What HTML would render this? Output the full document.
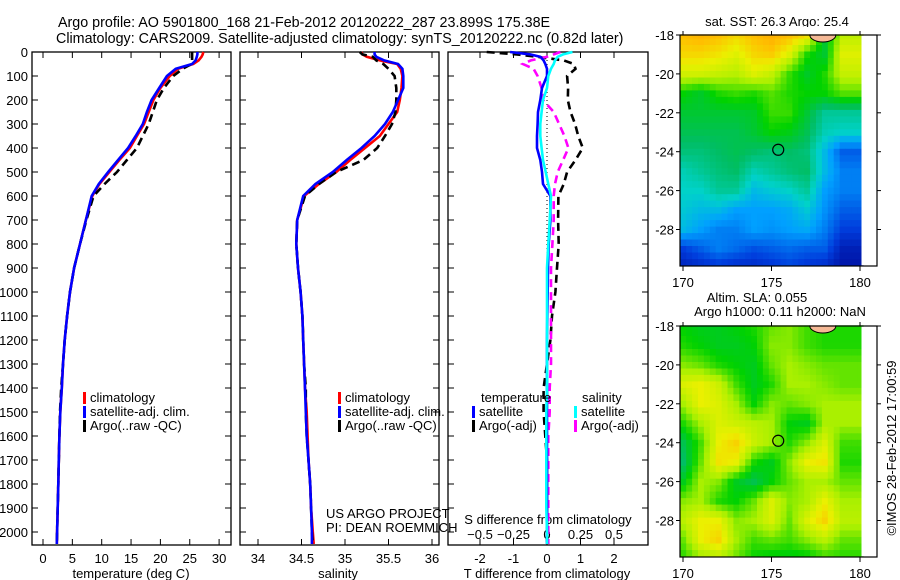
<!DOCTYPE html>
<html><head><meta charset="utf-8"><style>
body{margin:0;background:#fff}
svg{display:block;font-family:"Liberation Sans",sans-serif;font-size:13px}
</style></head><body>
<svg id="c" width="900" height="580" xmlns="http://www.w3.org/2000/svg">
<text x="58" y="27" font-size="14.3">Argo profile: AO 5901800_168 21-Feb-2012 20120222_287 23.899S 175.38E</text>
<text x="56" y="43" font-size="14.3">Climatology: CARS2009. Satellite-adjusted climatology: synTS_20120222.nc (0.82d later)</text>
<text x="777" y="26" text-anchor="middle">sat. SST: 26.3 Argo: 25.4</text>
<text x="757" y="302" text-anchor="middle">Altim. SLA: 0.055</text>
<text x="780" y="316" text-anchor="middle">Argo h1000: 0.11 h2000: NaN</text>
<text transform="translate(896,448) rotate(-90)" text-anchor="middle">©IMOS 28-Feb-2012 17:00:59</text>
<text x="326" y="518">US ARGO PROJECT</text>
<text x="326" y="532">PI: DEAN ROEMMICH</text>
<g id="g"></g>
</svg>
<script>
// ---- data ----
const depth=[0,10,20,35,50,70,100,150,200,250,300,350,400,450,500,550,600,700,800,900,1000,1100,1200,1300,1400,1500,1600,1700,1800,1900,2000,2050];
const tempClim=[27.3,27.2,27.0,26.5,25.6,23.0,21.6,20.0,18.8,18.0,17.2,16.0,14.8,13.0,11.3,9.6,8.4,7.3,6.3,5.3,4.6,4.1,3.7,3.4,3.2,2.95,2.8,2.7,2.6,2.5,2.4,2.35];
const tempSat=[26.3,26.3,26.2,26.0,25.4,22.6,21.1,19.8,18.5,17.7,17.0,15.8,14.5,12.8,11.1,9.5,8.3,7.3,6.3,5.3,4.6,4.1,3.7,3.4,3.2,2.95,2.8,2.7,2.6,2.5,2.4,2.35];
const tempArgo=[25.4,25.4,25.4,25.4,25.3,23.8,22.2,20.6,19.4,18.7,18.0,17.0,16.0,14.3,12.6,10.5,8.6,7.4,6.3,5.3,4.6,4.1,3.7,3.4,3.1,2.9,2.8,2.7,2.6,2.5,2.4,2.35];
const salClim=[35.19,35.2,35.25,35.4,35.6,35.64,35.66,35.65,35.63,35.6,35.5,35.4,35.23,35.06,34.9,34.7,34.53,34.45,34.44,34.46,34.49,34.51,34.52,34.53,34.54,34.56,34.57,34.58,34.6,34.61,34.63,34.64];
const salSat=[35.34,35.34,35.36,35.45,35.61,35.66,35.67,35.67,35.61,35.55,35.46,35.34,35.19,35.02,34.86,34.66,34.52,34.45,34.44,34.46,34.49,34.51,34.52,34.53,34.54,34.55,34.56,34.58,34.6,34.61,34.62,34.62];
const salArgo=[35.17,35.2,35.32,35.36,35.44,35.5,35.57,35.59,35.59,35.58,35.54,35.46,35.37,35.21,34.9,34.7,34.54,34.45,34.44,34.46,34.49,34.51,34.52,34.53,34.55,34.55,34.56,34.58,34.6,34.61,34.62,34.63];
const dTsat=[-1.1,-0.5,-0.2,-0.1,-0.05,0,0,-0.15,-0.2,-0.27,-0.28,-0.3,-0.3,-0.2,-0.15,-0.12,0.1,0.1,0.05,0.03,0.02,0.01,0,0,0,0,0,0,0,0,0,0];
const dTargo=[-1.8,-0.9,-0.3,0.5,0.8,0.85,0.6,0.63,0.62,0.7,0.84,0.93,1.07,0.85,0.6,0.5,0.34,0.33,0.35,0.3,0.25,0.15,0.1,0,-0.1,-0.1,-0.05,0,0,0,0,0];
const dSargo=[0.1,0.05,0,-0.12,-0.18,-0.1,-0.07,-0.04,-0.03,0.05,0.09,0.13,0.16,0.12,0.08,0.06,0.05,0.05,0.04,0.03,0.03,0.03,0.03,0.03,0.02,0.02,0.01,0.01,0.01,0.01,0.01,0.01];
const dSsat=[0.19,0.12,0.08,0.06,0.05,0.03,0.01,0,-0.03,-0.04,-0.05,-0.05,-0.04,-0.03,-0.01,0.01,0.03,0.02,0.01,0,0,0,0,0,0,-0.005,-0.005,-0.005,-0.005,-0.005,0,0];
const depthTicks=[0,100,200,300,400,500,600,700,800,900,1000,1100,1200,1300,1400,1500,1600,1700,1800,1900,2000];
const tempTicks=[0,5,10,15,20,25,30];
const salTicks=[34,34.5,35,35.5,36];
const salTickLabels=["34","34.5","35","35.5","36"];
const dTTicks=[-2,-1,0,1,2];
const dSTicks=[-0.5,-0.25,0,0.25,0.5];
const latTicks=[-18,-20,-22,-24,-26,-28];
const lonTicks=[170,175,180];
const sstGrid=[
[.9,.92,.9,.86,.9,.93,.9,.85,.55,.75],
[.86,.86,.84,.8,.86,.88,.8,.62,.55,.8],
[.78,.78,.76,.74,.8,.76,.64,.56,.62,.76],
[.6,.56,.62,.64,.62,.66,.62,.6,.6,.66],
[.55,.55,.55,.55,.56,.64,.64,.55,.45,.45],
[.52,.52,.52,.52,.55,.6,.58,.52,.42,.4],
[.48,.48,.5,.52,.5,.48,.5,.48,.35,.2],
[.42,.45,.48,.5,.42,.45,.48,.5,.35,.25],
[.4,.4,.45,.45,.35,.38,.4,.45,.3,.25],
[.38,.35,.35,.3,.3,.3,.32,.38,.28,.2],
[.35,.3,.25,.25,.3,.28,.3,.32,.25,.15],
[.15,.2,.25,.22,.18,.2,.22,.2,.2,.08],
[.08,.1,.12,.1,.1,.12,.15,.12,.1,.05]];
const slaGrid=[
[.35,.3,.3,.35,.4,.5,.55,.45,.4,.4],
[.4,.35,.3,.3,.35,.55,.55,.45,.4,.4],
[.55,.5,.4,.35,.3,.5,.6,.55,.5,.5],
[.75,.8,.7,.45,.3,.4,.6,.6,.55,.5],
[.6,.8,.75,.6,.35,.55,.5,.55,.6,.6],
[.4,.6,.75,.7,.65,.6,.35,.3,.6,.6],
[.2,.45,.8,.9,.7,.6,.4,.55,.75,.45],
[.15,.5,.85,.8,.4,.3,.55,.8,.85,.4],
[.3,.6,.55,.3,.2,.35,.5,.6,.6,.5],
[.55,.6,.4,.35,.5,.75,.55,.6,.8,.6],
[.65,.8,.8,.55,.6,.75,.5,.75,.9,.65],
[.5,.8,.9,.6,.45,.5,.45,.55,.65,.5],
[.4,.55,.6,.5,.35,.3,.3,.3,.4,.4]];
const argoLon=175.38, argoLat=-23.9;

// ---- drawing ----
const NS="http://www.w3.org/2000/svg";
const G=document.getElementById('g');
function mk(tag,at,parent){const e=document.createElementNS(NS,tag);for(const k in at)e.setAttribute(k,at[k]);(parent||G).appendChild(e);return e;}
const PT=52,PB=545;
const yD=d=>PT+d*0.24;
function frame(x0,x1,name){
  const r=mk('rect',{x:x0,y:PT,width:x1-x0,height:PB-PT,fill:'none',stroke:'#000','stroke-width':1.3});
  
  
  depthTicks.forEach(d=>{
    mk('line',{x1:x0,x2:x0+6,y1:yD(d),y2:yD(d),stroke:'#000'});
    mk('line',{x1:x1,x2:x1-6,y1:yD(d),y2:yD(d),stroke:'#000'});
  });
}
function line(xs,xf,color,dash,name,w){
  const pts=depth.map((d,i)=>xf(xs[i]).toFixed(1)+','+yD(d).toFixed(1)).join(' ');
  const p=mk('polyline',{points:pts,fill:'none',stroke:color,'stroke-width':w||2.6,'stroke-dasharray':dash||'none'});
  
  
}
function txt(x,y,s,anchor,name){const t=mk('text',{x:x,y:y,'text-anchor':anchor||'start'});t.textContent=s;
  
  
  return t;}
// panel 1
const xT=v=>43+v*5.87;
frame(32,231,'temperature-panel');
depthTicks.forEach(d=>txt(28,yD(d)+5,String(d),'end','depth-tick-label'));
tempTicks.forEach(v=>{mk('line',{x1:xT(v),x2:xT(v),y1:PB,y2:PB-6,stroke:'#000'});mk('line',{x1:xT(v),x2:xT(v),y1:PT,y2:PT+6,stroke:'#000'});txt(xT(v),563,String(v),'middle','temperature-tick-label');});
txt(131,578,'temperature (deg C)','middle','temperature-axis-title');
line(tempClim,xT,'#f00',null,'temperature-climatology-line');
line(tempArgo,xT,'#000','8,5','temperature-argo-line');
line(tempSat,xT,'#00f',null,'temperature-satellite-line');
// panel 2
const xS=v=>258+(v-34)*87;
frame(240,439,'salinity-panel');
salTicks.forEach((v,i)=>{mk('line',{x1:xS(v),x2:xS(v),y1:PB,y2:PB-6,stroke:'#000'});mk('line',{x1:xS(v),x2:xS(v),y1:PT,y2:PT+6,stroke:'#000'});txt(xS(v),563,salTickLabels[i],'middle','salinity-tick-label');});
txt(338,578,'salinity','middle','salinity-axis-title');
line(salClim,xS,'#f00',null,'salinity-climatology-line');
line(salArgo,xS,'#000','8,5','salinity-argo-line');
line(salSat,xS,'#00f',null,'salinity-satellite-line');
// panel 3
const xdT=v=>547+v*33.5, xdS=v=>547+v*134;
frame(448,648,'difference-panel');
dTTicks.forEach(v=>{mk('line',{x1:xdT(v),x2:xdT(v),y1:PB,y2:PB-6,stroke:'#000'});mk('line',{x1:xdT(v),x2:xdT(v),y1:PT,y2:PT+6,stroke:'#000'});txt(xdT(v),563,String(v),'middle','t-diff-tick-label');});
dSTicks.forEach(v=>txt(xdS(v),539,String(v).replace('-','\u2212'),'middle','s-diff-tick-label'));
txt(548,524,'S difference from climatology','middle','s-diff-axis-title');
txt(547,578,'T difference from climatology','middle','t-diff-axis-title');
mk('line',{x1:547,x2:547,y1:PT,y2:PB,stroke:'#000','stroke-dasharray':'1,3'});
line(dTargo,xdT,'#000','8,5','t-diff-argo-line');
line(dSargo,xdS,'#f0f','8,5','s-diff-argo-line');
line(dTsat,xdT,'#00f',null,'t-diff-satellite-line');
line(dSsat,xdS,'#0ff',null,'s-diff-satellite-line');
// legends
function leg(x,y,color,label,name){const r=mk('rect',{x:x,y:y-10,width:3,height:12,fill:color});
  
  txt(x+7,y,label,'start',name);}
leg(83,402,'#f00','climatology','legend-climatology');
leg(83,416,'#00f','satellite-adj. clim.','legend-satellite');
leg(83,430,'#000','Argo(..raw -QC)','legend-argo');
leg(338,402,'#f00','climatology','legend2-climatology');
leg(338,416,'#00f','satellite-adj. clim.','legend2-satellite');
leg(338,430,'#000','Argo(..raw -QC)','legend2-argo');
txt(481,402,'temperature','start','legend-temperature-heading');
txt(582,402,'salinity','start','legend-salinity-heading');
leg(472,416,'#00f','satellite','legend-t-satellite');
leg(472,430,'#000','Argo(-adj)','legend-t-argo');
leg(574,416,'#0ff','satellite','legend-s-satellite');
leg(574,430,'#f0f','Argo(-adj)','legend-s-argo');
// colour map
const stops=[[0,0,0,140],[.15,0,60,220],[.3,0,160,255],[.4,0,210,200],[.5,0,190,100],[.6,0,210,0],[.72,170,240,0],[.82,235,240,0],[.9,255,190,0],[1,255,140,0]];
function cmap(v){v=Math.max(0,Math.min(1,v));for(let i=1;i<stops.length;i++){if(v<=stops[i][0]){const a=stops[i-1],b=stops[i],t=(v-a[0])/(b[0]-a[0]);return 'rgb('+[1,2,3].map(k=>Math.round(a[k]+t*(b[k]-a[k]))).join(',')+')';}}return 'rgb(255,140,0)';}
function sample(grid,lon,lat){const c=Math.max(0,Math.min(9,lon-170)),r=Math.max(0,Math.min(12,-18-lat));
  const c0=Math.min(8,Math.floor(c)),r0=Math.min(11,Math.floor(r)),fc=c-c0,fr=r-r0;
  return grid[r0][c0]*(1-fc)*(1-fr)+grid[r0][c0+1]*fc*(1-fr)+grid[r0+1][c0]*(1-fc)*fr+grid[r0+1][c0+1]*fc*fr;}
function map(y0,grid,remap,name){
  const xL=v=>683+(v-170)*17.7, yL=v=>y0+(-18-v)*19.45;
  const g=mk('g',{});
  
  
  for(let lat=-17.85;lat>-29.9;lat-=1/3){for(let lon=169.85;lon<180;lon+=1/3){
    const v=remap(sample(grid,lon+1/6,lat-1/6));
    mk('rect',{x:xL(lon).toFixed(1),y:yL(lat).toFixed(1),width:6.3,height:6.9,fill:cmap(v)},g);}}
  mk('rect',{x:861.5,y:y0+0.7,width:15,height:229.6,fill:'#fff'});
  mk('rect',{x:676,y:y0+230.5,width:206,height:8,fill:'#fff'});
  mk('ellipse',{cx:xL(177.9),cy:y0,rx:13,ry:7,fill:'#f5b895',stroke:'#000'});
  mk('rect',{x:676,y:y0-8,width:206,height:7.3,fill:'#fff'});
  mk('rect',{x:680,y:y0,width:197,height:231,fill:'none',stroke:'#000','stroke-width':1.2});
  latTicks.forEach(v=>{mk('line',{x1:680,x2:676,y1:yL(v),y2:yL(v),stroke:'#000'});mk('line',{x1:877,x2:881,y1:yL(v),y2:yL(v),stroke:'#000'});txt(674,yL(v)+5,'-'+(-v),'end','lat-tick-label');});
  lonTicks.forEach(v=>{mk('line',{x1:xL(v),x2:xL(v),y1:y0+231,y2:y0+236,stroke:'#000'});mk('line',{x1:xL(v),x2:xL(v),y1:y0,y2:y0-4,stroke:'#000'});txt(xL(v),y0+252,String(v),'middle','lon-tick-label');});
  const c=mk('circle',{cx:xL(argoLon),cy:yL(argoLat),r:5.5,fill:'none',stroke:'#000','stroke-width':1.2});
  
  
}
map(35,sstGrid,v=>v,'sst-map');
map(326,slaGrid,v=>0.42+0.5*v,'sla-map');
</script>
</body></html>
